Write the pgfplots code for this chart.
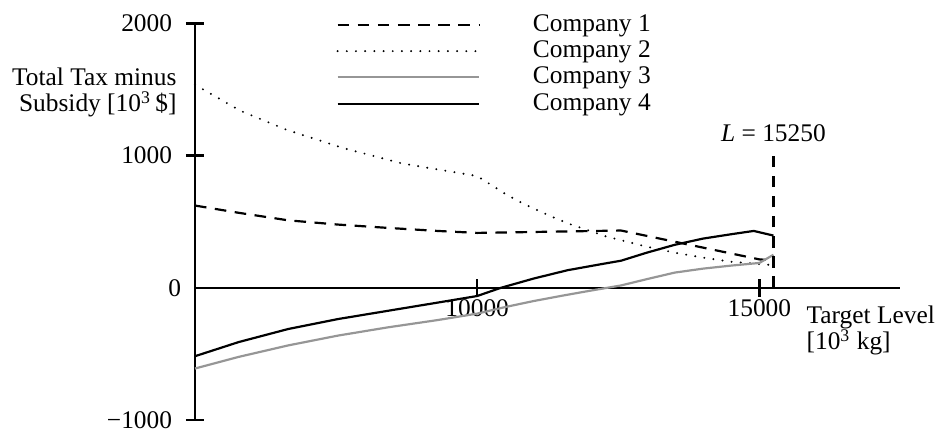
\documentclass[border=0pt]{standalone}
\usepackage{fontspec}
\setmainfont[Scale=1.16]{Liberation Serif}
\usepackage{pgfplots}
\pgfplotsset{compat=1.18}
\definecolor{cgray}{RGB}{150,150,150}
\begin{document}
\begin{tikzpicture}
\begin{axis}[
 name=ax,
 scale only axis, width=11.33cm, height=6.374cm,
 xmin=5000, xmax=17500, ymin=-1000, ymax=2000,
 axis x line=middle, axis y line=left,
 axis line style={-, line width=1.2pt},
 xtick={10000,15000}, xticklabels={10000,15000},
 ytick={-1000,1000,2000}, yticklabels={−1000,1000,2000},
 extra y ticks={0}, extra y tick labels={0}, extra y tick style={major tick length=0pt},
 hide obscured x ticks=false, hide obscured y ticks=false,
 tick align=center, major tick length=0.29cm,
 tick style={line width=1.2pt, black},
 yticklabel style={xshift=-0.08cm},
 xticklabel style={yshift=0.1cm},
 scaled ticks=false,
 clip=false,
 legend style={draw=none, fill=none, at={(0.2,1.03)}, anchor=north west,
   inner sep=0pt, row sep=0pt, column sep=0.85cm,
   nodes={inner sep=0pt, text height=9pt, text depth=3pt}},
 legend cell align=left,
 legend image code/.code={\draw[#1] (0cm,0cm) -- (2.27cm,0cm);},
]
\addplot[black, line width=1pt, dash pattern=on 5.3pt off 3.9pt] coordinates {
 (5000,622) (5775,567) (6655,510) (7535,478) (8415,453) (9296,430) (10000,415)
 (12550,433) (15000,215) (15250,207)};
\addlegendentry{Company 1}
\addplot[black, line width=1pt, line cap=round, dash pattern=on 0pt off 4.2pt] coordinates {
 (5000,1535) (5805,1338) (6625,1194) (7623,1057) (8667,940) (10000,845)
 (10200,791) (10500,709) (10800,640) (11000,600) (11300,542) (11600,488)
 (12000,430) (12300,386) (12550,360) (13000,311) (13500,266) (14000,228)
 (14500,197) (15000,180) (15250,172)};
\addlegendentry{Company 2}
\addplot[cgray, line width=1pt] coordinates {
 (5000,-610) (5775,-522) (6655,-435) (7535,-361) (8415,-299) (9296,-244) (10000,-195)
 (10500,-145) (11000,-100) (11500,-60) (12000,-22) (12550,18) (13000,65)
 (13500,115) (14000,145) (14500,168) (15000,188) (15250,250)};
\addlegendentry{Company 3}
\addplot[black, line width=1pt] coordinates {
 (5000,-517) (5775,-410) (6655,-311) (7535,-236) (8415,-174) (9296,-112) (10000,-62)
 (10420,0) (11000,70) (11600,133) (12200,179) (12550,205) (13000,265)
 (13500,325) (14000,372) (14500,405) (14900,430) (15250,395)};
\addlegendentry{Company 4}
\addplot[black, line width=1pt, dash pattern=on 5.3pt off 3.9pt, forget plot] coordinates {(15250,0) (15250,1000)};
\node[anchor=east, align=right, inner sep=0pt] at (axis cs:5000,1475) [xshift=-0.29cm] {Total Tax minus\\Subsidy [10\textsuperscript{3}\,\$]};
\node[anchor=north west, align=left, inner sep=0pt] at (axis cs:15830,0) [yshift=-0.28cm] {Target Level\\{[}10\textsuperscript{3} kg{]}};
\node[anchor=base, inner sep=0pt] at (axis cs:15250,1105) {\textit{L} = 15250};
\end{axis}
\pgfresetboundingbox
\path (ax.south west) ++(-3.131cm,-0.2cm) rectangle ++(15.08cm,6.947cm);
\end{tikzpicture}
\end{document}
